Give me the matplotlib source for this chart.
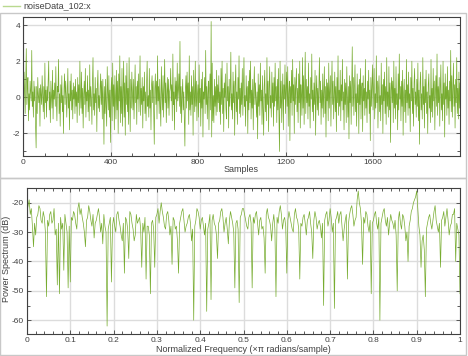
import matplotlib
matplotlib.use("Agg")
import matplotlib.pyplot as plt
from matplotlib.ticker import MultipleLocator
from matplotlib.patches import Rectangle
from matplotlib.lines import Line2D

plt.rcParams['font.family'] = ['Liberation Sans', 'DejaVu Sans']
plt.rcParams['axes.unicode_minus'] = False

# noise samples, read every 2.5 samples (0..1997.5)
sample_step = 2.5
noise = [
    0.3, -0.6, 1.4, 0.2, -0.9, 0.8, 2.7, -0.4, 0.5, 1.1, -1.3, 0.2, -0.7, 0.9, 0.4, -0.2, 2.6, -0.5, 0.3, -1.1,
    0.9, -0.2, 0.6, -1.6, -2.8, 0.6, -0.9, 1.1, 0.1, -0.3, 0.5, -1.6, 0.7, 0.2, -0.4, 1.2, 0.1, -0.8, 0.6, -1.2,
    1.9, -0.3, 0.4, -1.1, 0.6, -0.2, 0.9, 2.0, -0.7, 0.3, -1.4, 0.9, 0.0, -0.6, 1.5, -1.2, 0.4, -0.1, 0.8, -0.5,
    1.7, -0.1, -1.3, 0.6, 0.3, 2.1, -0.9, 0.2, -1.6, 0.7, -0.3, 1.2, -0.8, 0.1, -2.0, 0.5, 1.3, -0.4, 0.9, 0.2,
    -1.1, 0.3, 1.6, -0.6, 0.2, -1.8, 0.9, -0.2, 1.3, -0.7, 0.4, -1.2, 0.8, -0.1, 0.6, -0.9, 1.0, -0.5, 0.3, -1.4,
    1.1, -0.3, 0.7, -1.0, 2.0, 0.1, -0.6, 1.4, -0.9, 0.5, -1.7, 0.2, 0.9, -0.4, 1.6, -1.1, 0.3, -0.2, 1.2, -0.8,
    0.4, -1.3, 1.8, -0.5, 0.6, -0.1, -1.5, 0.8, 2.2, -0.7, 0.2, -1.0, 1.1, -0.3, 0.5, -1.9, 0.7, 1.5, -0.6, 0.1,
    -0.8, 0.5, 1.3, -0.4, 0.9, -1.2, 1.0, -0.2, -2.6, 0.6, -0.9, 1.0, -0.5, -1.6, 1.7, 0.3, -0.7, 1.2, -1.1, 0.4,
    -2.5, 0.4, 1.1, -1.3, 1.9, -0.5, 0.7, -1.8, 1.2, 0.0, -1.2, 1.5, -0.7, 0.9, -2.0, 1.3, -0.2, 2.3, -1.4, 0.6,
    -0.9, 1.6, -1.6, 0.3, 2.0, -1.1, 0.8, -2.1, 1.2, -0.4, 1.9, -0.8, 0.5, -1.5, 2.2, -0.1, -1.9, 1.0, -0.6, 1.4,
    0.2, -0.7, 1.0, -1.2, 0.4, 1.8, -0.3, 0.6, -1.5, 0.9, -0.1, 1.3, -0.8, 0.2, 2.3, -1.0, 0.5, -0.4, 1.1, -1.7,
    0.6, -0.2, 1.4, -0.9, 0.3, -1.3, 0.8, 2.0, -0.5, 0.1, -1.1, 1.6, -0.6, 0.4, -1.8, 0.7, 1.2, -0.3, 0.9, -1.0,
    -2.6, 0.5, 1.3, -0.4, 0.9, -1.2, 2.3, -0.2, 0.6, -0.9, 1.0, -0.5, -1.6, 1.7, 0.3, -0.7, 1.2, -1.1, 0.4, 2.1,
    -0.3, 0.8, -1.4, 0.2, 1.1, -0.6, 1.0, -1.0, 0.3, 0.5, 1.6, -0.2, 0.7, -1.3, 2.4, -0.4, 0.3, -1.8, 1.1, -0.1,
    0.9, -0.8, 1.9, -0.2, 0.4, 1.3, -0.5, 3.1, -0.9, 0.6, -1.4, 0.2, 1.0, -0.7, 0.3, -1.1, -2.7, 0.5, 1.2, -0.6,
    1.4, -0.2, 0.8, -1.5, 2.3, -0.7, 0.3, -1.0, 1.2, -0.4, 0.6, -2.1, 1.5, 0.1, -0.8, 2.0, -0.5, 0.9, -1.3, 0.2,
    0.7, -1.1, 1.8, -0.3, 0.5, -1.6, 1.0, -0.6, 1.4, -2.2, 0.3, -0.1, 1.1, -0.9, 2.6, -0.4, 0.6, -1.2, 0.2, 0.9,
    -1.8, 0.4, 1.3, -0.7, 4.2, -2.2, 1.9, -1.3, 0.1, -1.4, 1.0, -0.5, 0.6, -1.0, 1.5, -0.8, 0.7, -0.3, 1.2, -0.8,
    0.3, -1.5, 1.6, -0.4, 2.0, -0.9, 0.5, -1.9, 0.8, 0.0, 1.3, -0.6, -1.2, 1.9, -0.2, 0.6, -1.7, 1.0, -0.5, 0.4,
    2.5, -0.7, 0.2, -1.2, 1.4, -0.3, 0.9, -2.1, 0.6, 1.8, -0.8, 0.3, -1.5, 1.1, -0.1, 2.3, -0.9, 0.5, -1.1, 0.8,
    -0.4, 1.6, -1.0, 0.7, 2.2, -0.5, 0.1, -1.6, 1.2, -0.2, 0.6, -2.0, 0.9, -0.7, 1.5, -0.3, 2.0, -1.2, 0.4, -0.6,
    1.0, -1.8, 0.5, 1.7, -0.4, 0.8, -0.2, -1.1, 0.3, -2.3, 1.3, -0.5, 0.7, -1.0, 1.9, -0.2, 0.4, -1.5, 1.2, -0.7,
    -2.1, 0.6, 1.5, -0.8, 0.2, -1.3, 2.2, -0.4, 0.9, -1.9, 0.5, 1.7, -0.6, 0.1, -1.1, 1.4, -0.3, 0.8, -1.6, 1.1,
    -0.5, 1.9, -0.2, 0.6, -1.4, 1.0, -0.7, 1.6, -1.2, -3.0, 2.0, -0.6, 0.9, -1.4, 0.2, 1.3, -1.8, 0.7, -0.1, 1.8,
    -0.9, 0.4, 1.4, -0.5, 1.7, -1.6, 0.2, 0.9, -2.4, 0.6, -0.3, 1.5, -1.0, 2.1, -0.2, 0.7, -2.0, 1.1, -0.4, 0.8,
    1.6, -0.8, 0.5, -1.4, 1.3, -0.3, 2.0, -1.7, 0.7, 0.1, -1.0, 2.2, -0.6, 1.2, -1.5, 0.4, 2.5, -0.9, 1.0, -0.3,
    0.6, -1.2, 1.9, -0.5, 0.2, -1.7, 1.1, -0.1, 2.4, -0.8, 0.4, -1.3, 0.8, -0.4, 1.5, -2.1, 0.3, 1.2, -0.7, 0.5,
    -1.0, 0.7, 2.2, -0.3, 0.9, -1.5, 0.4, -0.6, 1.3, -1.1, 0.2, 1.7, -0.9, 0.6, -2.2, 1.0, -0.2, 0.8, -1.3, 1.9,
    -0.6, 0.3, 1.2, -1.6, 0.5, 2.0, -0.4, 0.9, -1.2, 0.1, 1.4, -0.8, 0.6, -1.9, 1.1, -0.3, 2.3, -1.0, 0.4, -0.5,
    1.5, -1.3, 0.7, -0.2, 2.1, -0.7, 0.3, -1.8, 1.0, -0.4, 0.8, -1.4, 1.7, 0.0, -1.1, 0.6, -2.3, 1.2, -0.3, 0.9,
    -1.5, 0.6, 2.8, -0.5, 1.1, -1.0, 0.4, 1.8, -0.8, 0.2, -1.6, 1.3, -0.3, 0.7, -2.0, 1.0, -0.4, 1.6, -1.2, 0.5,
    0.8, -1.9, 1.2, -0.2, 0.5, -1.0, 2.1, -0.6, 0.3, -1.4, 0.9, -0.1, 1.5, -0.9, 0.4, -2.4, 1.1, -0.5, 0.7, 1.8,
    -0.7, 0.4, 1.6, -1.2, 0.2, -0.6, 2.3, -0.3, 0.9, -1.7, 0.5, 1.2, -0.8, 0.1, -1.3, 1.9, -0.4, 0.7, -2.0, 1.0,
    -0.2, 1.4, -0.9, 0.6, -1.5, 2.2, -0.5, 0.3, -1.1, 1.7, -0.7, 0.8, -2.5, 0.4, 1.1, -0.3, 0.9, -1.4, 2.0, -0.6,
    0.5, -1.2, 1.7, -0.4, 0.2, -1.8, 1.3, -0.7, 2.4, -0.1, 0.6, -1.3, 0.9, -0.5, 1.5, -2.1, 0.3, 1.0, -0.8, 0.4,
    -1.4, 2.1, -0.3, 0.7, -1.0, 1.4, -0.6, 0.2, -1.9, 1.1, -0.2, 2.0, -0.9, 0.5, -1.6, 0.8, 1.6, -0.4, 0.3, -1.1,
    1.0, -0.5, 1.9, -1.3, 0.4, -2.6, 0.8, 1.4, -0.7, 0.2, -1.2, 2.2, -0.4, 0.6, -1.7, 1.0, -0.3, 1.5, -0.9, 0.3,
    -2.0, 0.7, 1.3, -0.6, 0.1, -1.4, 2.1, -0.8, 0.5, -1.1, 1.6, -0.2, 0.9, -1.8, 0.3, 1.2, -0.5, 2.4, -1.0, 0.6,
    -0.3, 1.1, -1.6, 0.5, 1.8, -0.7, 0.2, -1.3, 2.0, -0.4, 0.8, -2.2, 1.3, -0.1, 0.6, -1.0, 1.7, -0.6, 0.4, -1.5,
    0.9, -0.2, 2.6, -0.8, 1.2, -1.1, 0.4, 1.9, -0.5, 0.7, -1.7, 1.0, -0.3, 2.2, -0.9, 0.5, -1.2, 1.4, -0.6, 0.8,
]
samples = [i * sample_step for i in range(len(noise))]

# power spectrum in dB, 0 .. 1 (x pi rad/sample), evenly spaced
power_db = [
    -23, -21, -19, -24, -22, -28, -35, -27, -31, -25, -24, -21, -22, -26, -27, -23, -25, -30, -52, -26,
    -28, -24, -23, -27, -26, -22, -31, -29, -48, -27, -51, -25, -29, -27, -43, -24, -27, -30, -49, -28,
    -47, -25, -26, -23, -24, -27, -29, -22, -20, -24, -22, -25, -27, -30, -35, -26, -25, -21, -23, -26,
    -28, -24, -32, -27, -26, -24, -22, -25, -30, -27, -34, -24, -28, -30, -62, -29, -27, -25, -47, -28,
    -25, -28, -30, -24, -23, -26, -28, -31, -33, -27, -44, -25, -26, -29, -39, -23, -24, -27, -29, -33,
    -31, -24, -27, -26, -25, -29, -42, -27, -30, -25, -46, -28, -28, -31, -51, -27, -26, -29, -42, -25,
    -24, -22, -27, -23, -20, -23, -25, -28, -29, -24, -23, -26, -31, -28, -41, -25, -26, -29, -28, -33,
    -44, -27, -25, -23, -22, -26, -30, -28, -27, -25, -24, -27, -33, -29, -60, -28, -26, -22, -23, -25,
    -29, -26, -25, -28, -31, -27, -57, -29, -27, -24, -53, -26, -24, -27, -28, -31, -39, -27, -26, -23,
    -22, -25, -30, -27, -25, -29, -34, -26, -23, -25, -27, -30, -49, -27, -26, -29, -54, -25, -24, -22,
    -22, -24, -26, -28, -29, -25, -24, -27, -49, -25, -27, -24, -23, -27, -31, -26, -25, -29, -28, -32,
    -44, -24, -22, -25, -26, -28, -33, -27, -24, -29, -52, -25, -27, -23, -21, -24, -29, -26, -25, -28,
    -44, -26, -23, -25, -27, -29, -30, -24, -22, -25, -26, -29, -46, -27, -28, -25, -24, -27, -31, -26,
    -25, -23, -27, -30, -39, -26, -23, -25, -29, -27, -26, -28, -32, -27, -55, -26, -24, -23, -28, -26,
    -22, -25, -30, -27, -56, -26, -25, -23, -27, -24, -23, -28, -33, -29, -26, -24, -46, -27, -24, -22,
    -21, -24, -28, -26, -25, -19, -16, -20, -22, -27, -41, -25, -27, -23, -24, -28, -30, -26, -51, -27,
    -26, -24, -23, -27, -29, -25, -60, -27, -25, -23, -22, -26, -28, -25, -31, -27, -24, -26, -27, -29,
    -26, -31, -50, -26, -23, -27, -29, -24, -25, -28, -33, -30, -40, -28, -26, -23, -22, -20, -19, -18,
    -16, -22, -28, -31, -42, -33, -31, -36, -52, -29, -27, -25, -24, -27, -29, -26, -23, -21, -26, -28,
    -30, -27, -42, -26, -25, -23, -28, -25, -22, -26, -31, -28, -27, -24, -24, -22, -40, -27, -29, -31,
    -51,
]
freqs = [i / (len(power_db) - 1) for i in range(len(power_db))]

green = '#77AC30'
grid_c = '#dcdcdc'
axis_c = '#404040'
fs = 6
lfs = 6.5
W, H = 468, 356

fig = plt.figure(figsize=(4.68, 3.56), dpi=100)

# panel frames
fig.patches.append(Rectangle((0.0, 1 - 178 / H), 466 / W, 165 / H, transform=fig.transFigure,
                             fill=False, edgecolor='#c8c8c8', lw=1.0))
fig.patches.append(Rectangle((0.0, 0.002), 466 / W, 177 / H, transform=fig.transFigure,
                             fill=False, edgecolor='#c8c8c8', lw=1.0))

# legend strip
fig.lines.append(Line2D([3 / W, 20 / W], [1 - 6 / H, 1 - 6 / H], transform=fig.transFigure,
                        color='#b9d98f', lw=1.0))
fig.text(23 / W, 1 - 6 / H, 'noiseData_102:x', fontsize=lfs, color=axis_c, va='center')


def style(ax):
    ax.grid(True, color=grid_c, lw=1.0)
    ax.set_axisbelow(True)
    for s in ax.spines.values():
        s.set_color(axis_c)
        s.set_linewidth(0.8)
    ax.tick_params(which='both', direction='in', top=True, right=True, colors=axis_c,
                   labelsize=fs, width=0.6, pad=2)
    ax.tick_params(which='major', length=3)
    ax.tick_params(which='minor', length=2)


ax1 = fig.add_axes([23 / W, 1 - 156 / H, 437 / W, 139 / H])
ax1.plot(samples, noise, color=green, lw=0.5)
ax1.set_xlim(0, 1997.5)
ax1.set_ylim(-3.25, 4.45)
ax1.xaxis.set_major_locator(MultipleLocator(400))
ax1.xaxis.set_minor_locator(MultipleLocator(100))
ax1.yaxis.set_major_locator(MultipleLocator(2))
ax1.yaxis.set_minor_locator(MultipleLocator(1))
style(ax1)
fig.text(241 / W, 1 - 170 / H, 'Samples', fontsize=lfs, color=axis_c, ha='center', va='center')

ax2 = fig.add_axes([27 / W, 1 - 334 / H, 433 / W, 146 / H])
ax2.plot(freqs, power_db, color=green, lw=0.5)
ax2.set_xlim(0, 1)
ax2.set_ylim(-64.7, -15)
ax2.xaxis.set_minor_locator(MultipleLocator(0.02))
ax2.yaxis.set_major_locator(MultipleLocator(10))
ax2.yaxis.set_minor_locator(MultipleLocator(5))
ax2.set_xticks([0, 0.1, 0.2, 0.3, 0.4, 0.5, 0.6, 0.7, 0.8, 0.9, 1])
ax2.set_xticklabels(['0', '0.1', '0.2', '0.3', '0.4', '0.5', '0.6', '0.7', '0.8', '0.9', '1'])
style(ax2)
fig.text(243 / W, 1 - 349 / H, 'Normalized Frequency (\u00d7\u03c0 radians/sample)', fontsize=lfs,
         color=axis_c, ha='center', va='center')
fig.text(7 / W, 1 - 259 / H, 'Power Spectrum (dB)', fontsize=lfs, color=axis_c,
         ha='center', va='center', rotation=90)

fig.savefig('out.png', dpi=100)
